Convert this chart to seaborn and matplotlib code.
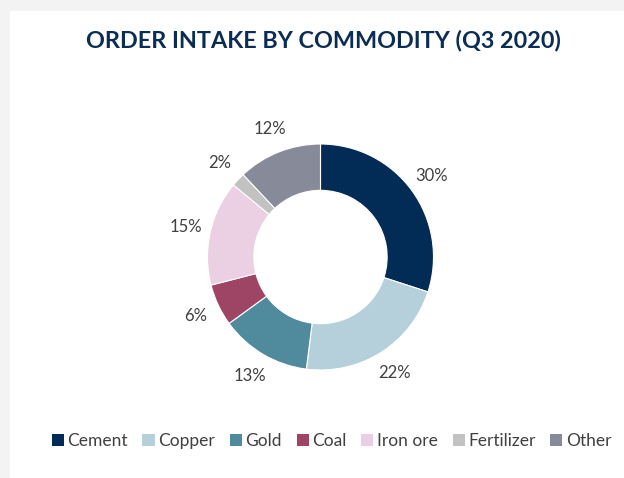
import matplotlib
matplotlib.use("Agg")
import matplotlib.pyplot as plt
from matplotlib.patches import Rectangle
import seaborn as sns

# data
commodities = ["Cement", "Copper", "Gold", "Coal", "Iron ore", "Fertilizer", "Other"]
shares = [30, 22, 13, 6, 15, 2, 12]
colors = ["#022b55", "#b5d0da", "#4f8a9d", "#9e4566", "#ebcfe2", "#c2c2c2", "#878a98"]
title = "ORDER INTAKE BY COMMODITY (Q3 2020)"

sns.set_theme(style="white")
plt.rcParams['font.family'] = ['Lato', 'DejaVu Sans']

W, H = 624, 478
fig = plt.figure(figsize=(W / 100, H / 100), dpi=100)
fig.patch.set_facecolor("#f3f3f3")
# white card on the grey page
fig.patches.append(Rectangle((10 / W, 0), 1, 1 - 11 / H, transform=fig.transFigure,
                             facecolor="white", edgecolor="none", zorder=-5))

# donut placement (pixels)
cx, cy, r = 320.5, 257, 113
half = 1.5 * r
ax = fig.add_axes([(cx - half) / W, (H - cy - half) / H, 2 * half / W, 2 * half / H])
ax.set_facecolor("none")
ax.set_zorder(2)

pal = sns.color_palette(colors)
wedges, texts, autotexts = ax.pie(
    shares, colors=pal, startangle=90, counterclock=False,
    autopct="%.0f%%", pctdistance=1.22,
    wedgeprops=dict(width=0.41, edgecolor="white", linewidth=0.8),
    textprops=dict(color="#404040", fontsize=12))
ax.set_xlim(-1.5, 1.5)
ax.set_ylim(-1.5, 1.5)
ax.set_aspect("equal")
ax.axis("off")

fig.text(323.5 / W, 1 - 47.5 / H, title, ha="center", va="baseline",
         fontsize=16.8, fontweight="bold", color="#0b2d53")

handles = [Rectangle((0, 0), 1, 1, facecolor=c, edgecolor="none") for c in pal]
fig.legend(handles, commodities, loc="center", bbox_to_anchor=(331.5 / W, 1 - 441 / H),
           ncol=7, frameon=False, fontsize=12.5, handlelength=0.7, handleheight=0.7,
           handletextpad=0.2, columnspacing=0.85, labelcolor="#404040")

fig.savefig("out.png", dpi=100, facecolor=fig.get_facecolor())
